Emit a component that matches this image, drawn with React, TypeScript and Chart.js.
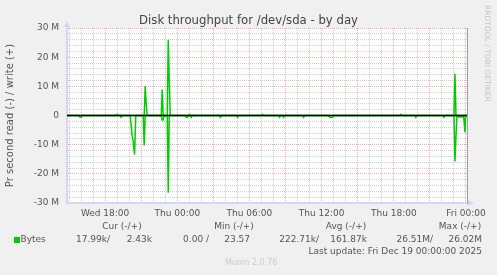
import React, { useEffect, useRef } from 'react';
import { Chart, registerables } from 'chart.js';

Chart.register(...registerables);

// ---- data (time = minutes relative to Thu 00:00, values in MB/s) ----
const readMinutes = [-550, -490, -485, -480, -475, -285, -280, -275, -235, -225, -220, -213, -207, -170, -165, -160, -80, -75, -70, -65, -50, -45, -40, 40, 45, 50, 55, 65, 70, 75, 210, 215, 220, 295, 300, 305, 505, 510, 515, 525, 530, 535, 625, 630, 635, 755, 760, 775, 780, 1185, 1190, 1195, 1325, 1330, 1335, 1380, 1385, 1390, 1395, 1400, 1405, 1420, 1425, 1428, 1435, 1438, 1445];
const readValues = [0, 0, 0.6, 0.6, 0, 0, 0.6, 0, 0, 7.0, 8.8, 13.4, 0, 0, 10.3, 0, 0, 1.5, 1.5, 0, 0, 26.51, 0, 0, 0.6, 0.6, 0, 0, 0.6, 0, 0, 0.6, 0, 0, 0.6, 0, 0, 0.6, 0, 0, 0.6, 0, 0, 0.6, 0, 0, 0.6, 0.6, 0, 0, 0.6, 0, 0, 0.6, 0, 0, 15.8, 7, 0, 0, 0.5, 0.5, 0, 0, 5.7, 0, 0.018];
const writeMinutes = [-550, -305, -300, -295, -165, -160, -155, -150, -80, -75, -70, -50, -45, -40, -35, 55, 60, 65, 420, 425, 430, 1110, 1115, 1120, 1380, 1385, 1390, 1445];
const writeValues = [0, 0, 0.4, 0, 0, 10.0, 4, 0, 0, 8.9, 0, 0, 26.02, 12, 0, 0, 0.4, 0, 0, 0.4, 0, 0, 0.4, 0, 0, 14.3, 0, 0.0024];

const xMin = -550;
const xMax = 1445;
const xLabelMinutes = [-360, 0, 360, 720, 1080, 1440];
const xLabels = ['Wed 18:00', 'Thu 00:00', 'Thu 06:00', 'Thu 12:00', 'Thu 18:00', 'Fri 00:00'];
const yLabelValues = [-30, -20, -10, 0, 10, 20, 30];
const yLabels = ['-30 M', '-20 M', '-10 M', '0', '10 M', '20 M', '30 M'];

const titleText = 'Disk throughput for /dev/sda - by day';
const yTitle = 'Pr second read (-) / write (+)';
const statHeaders = ['Cur (-/+)', 'Min (-/+)', 'Avg (-/+)', 'Max (-/+)'];
const readStats = ['17.99k/', '0.00 /', '222.71k/', '26.51M/'];
const writeStats = ['2.43k', '23.57', '161.87k', '26.02M'];
const seriesName = 'Bytes';
const lastUpdate = 'Last update: Fri Dec 19 00:00:00 2025';
const muninVersion = 'Munin 2.0.76';
const watermark = 'RRDTOOL / TOBI OETIKER';

const FONT = '"DejaVu Sans", sans-serif';
const TEXT = '#555555';
const GREEN = '#00CC00';
const GRID = 'rgba(150,150,150,0.45)';
const MGRID = 'rgba(225,90,90,0.5)';
const AXIS = '#CFD6F8';

const decor = {
  id: 'decor',
  beforeDraw(chart: any) {
    const { ctx, chartArea: a } = chart;
    ctx.save();
    ctx.fillStyle = '#F0F0F0';
    ctx.fillRect(0, 0, chart.width, chart.height);
    ctx.fillStyle = '#FFFFFF';
    ctx.fillRect(a.left, a.top, a.right - a.left, a.bottom - a.top);
    ctx.restore();
  },
  afterDraw(chart: any) {
    const { ctx, chartArea: a } = chart;
    ctx.save();
    // arrows
    ctx.fillStyle = AXIS;
    ctx.beginPath();
    ctx.moveTo(a.left - 3, a.top - 1);
    ctx.lineTo(a.left + 3, a.top - 1);
    ctx.lineTo(a.left, a.top - 7);
    ctx.closePath();
    ctx.fill();
    ctx.beginPath();
    ctx.moveTo(a.right + 1, a.bottom - 3);
    ctx.lineTo(a.right + 1, a.bottom + 3);
    ctx.lineTo(a.right + 7, a.bottom);
    ctx.closePath();
    ctx.fill();

    // legend table
    ctx.font = `9px ${FONT}`;
    ctx.fillStyle = TEXT;
    ctx.textBaseline = 'middle';
    const headerX = [122, 234, 346, 460];
    ctx.textAlign = 'center';
    statHeaders.forEach((h, i) => ctx.fillText(h, headerX[i], 227));
    ctx.fillStyle = GREEN;
    ctx.fillRect(14, 237, 6, 6);
    ctx.fillStyle = TEXT;
    ctx.textAlign = 'left';
    ctx.fillText(seriesName, 20.5, 240);
    ctx.textAlign = 'right';
    const readX = [110, 209, 319, 433];
    const writeX = [152, 250, 367, 482];
    readStats.forEach((s, i) => ctx.fillText(s, readX[i], 240));
    writeStats.forEach((s, i) => ctx.fillText(s, writeX[i], 240));
    ctx.fillText(lastUpdate, 482, 251.5);

    ctx.textAlign = 'left';
    ctx.fillStyle = '#CCCCCC';
    ctx.font = `8px ${FONT}`;
    ctx.fillText(muninVersion, 225, 263);

    // vertical watermark
    ctx.translate(487, 5);
    ctx.rotate(Math.PI / 2);
    ctx.font = `7.5px ${FONT}`;
    ctx.fillStyle = '#C4C4C4';
    ctx.textAlign = 'left';
    ctx.fillText(watermark, 0, 0);
    ctx.restore();
  },
};

export default function App() {
  const ref = useRef<HTMLCanvasElement | null>(null);
  useEffect(() => {
    document.body.style.margin = '0';
    document.body.style.background = '#F0F0F0';
    const canvas = ref.current;
    if (!canvas) return;
    const readData = readMinutes.map((m, i) => ({ x: m, y: -readValues[i] }));
    const writeData = writeMinutes.map((m, i) => ({ x: m, y: writeValues[i] }));
    const gridMinutes: number[] = [];
    for (let m = -540; m <= 1440; m += 60) gridMinutes.push(m);
    const gridValues: number[] = [];
    for (let v = -30; v <= 30; v += 2) gridValues.push(v);

    const chart = new Chart(canvas, {
      type: 'line',
      data: {
        datasets: [
          {
            label: 'zero',
            data: [{ x: xMin, y: 0 }, { x: xMax, y: 0 }],
            borderColor: '#000000',
            borderWidth: 1.5,
            pointRadius: 0,
            order: 0,
          },
          {
            label: 'read',
            data: readData,
            borderColor: GREEN,
            borderWidth: 1.5,
            pointRadius: 0,
            tension: 0,
            order: 1,
          },
          {
            label: 'write',
            data: writeData,
            borderColor: GREEN,
            borderWidth: 1.5,
            pointRadius: 0,
            tension: 0,
            order: 1,
          },
        ],
      },
      options: {
        animation: false,
        responsive: false,
        maintainAspectRatio: false,
        devicePixelRatio: 1,
        layout: { padding: { left: 0, right: 0, top: 0, bottom: 52 } },
        plugins: {
          legend: { display: false },
          tooltip: { enabled: false },
          title: {
            display: true,
            text: titleText,
            color: '#444444',
            font: { family: FONT, size: 11.7, weight: 'normal' as any, lineHeight: 1.2 },
            padding: { top: 13.5, bottom: 0.5 },
          },
        },
        scales: {
          x: {
            type: 'linear',
            position: 'bottom',
            min: xMin,
            max: xMax,
            afterBuildTicks: (s: any) => {
              s.ticks = gridMinutes.map((v) => ({ value: v }));
            },
            afterFit: (s: any) => {
              s.height = 20;
            },
            ticks: {
              autoSkip: false,
              maxRotation: 0,
              padding: 5,
              color: TEXT,
              font: { family: FONT, size: 9 },
              callback: (v: any) => {
                const i = xLabelMinutes.indexOf(Number(v));
                return i >= 0 ? xLabels[i] : '';
              },
            },
            grid: {
              drawTicks: false,
              lineWidth: 1,
              color: (c: any) => (c.tick && c.tick.value % 180 === 0 ? MGRID : GRID),
            },
            border: { display: true, color: AXIS, width: 2, dash: [1, 1] },
          },
          y: {
            type: 'linear',
            position: 'left',
            min: -30,
            max: 30,
            afterBuildTicks: (s: any) => {
              s.ticks = gridValues.map((v) => ({ value: v }));
            },
            afterFit: (s: any) => {
              s.width = 67;
            },
            ticks: {
              autoSkip: false,
              padding: 8,
              color: TEXT,
              font: { family: FONT, size: 9 },
              callback: (v: any) => {
                const i = yLabelValues.indexOf(Number(v));
                return i >= 0 ? yLabels[i] : '';
              },
            },
            grid: {
              drawTicks: false,
              lineWidth: 1,
              color: (c: any) => (c.tick && c.tick.value % 10 === 0 ? MGRID : GRID),
            },
            border: { display: true, color: AXIS, width: 2, dash: [1, 1] },
            title: {
              display: true,
              text: yTitle,
              color: TEXT,
              font: { family: FONT, size: 10 },
              padding: { top: 4, bottom: 0 },
            },
          },
          yR: {
            type: 'linear',
            position: 'right',
            min: -30,
            max: 30,
            afterFit: (s: any) => {
              s.width = 30;
            },
            ticks: { display: false },
            grid: { display: false, drawTicks: false },
            border: { display: true, color: '#A0A0A0', width: 1 },
          },
        },
      },
      plugins: [decor],
    } as any);
    return () => chart.destroy();
  }, []);

  return (
    <div style={{ position: 'fixed', left: 0, top: 0, width: 497, height: 275, background: '#F0F0F0' }}>
      <canvas ref={ref} width={497} height={275} style={{ width: 497, height: 275, display: 'block' }} />
    </div>
  );
}
